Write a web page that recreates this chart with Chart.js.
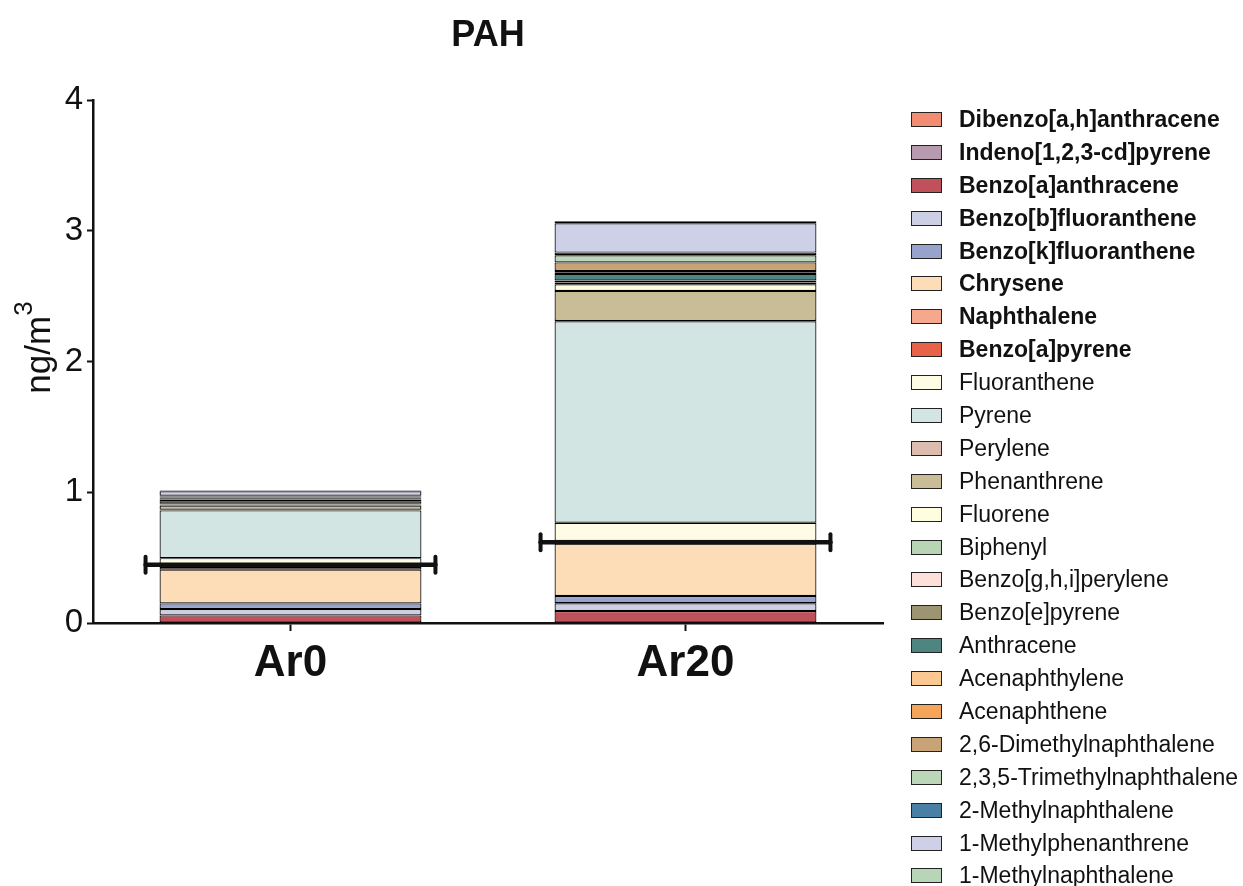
<!DOCTYPE html>
<html>
<head>
<meta charset="utf-8">
<script src="https://cdn.jsdelivr.net/npm/chart.js@4"></script>
<style>
  html, body { margin: 0; padding: 0; background: #fff; }
  #wrap { position: relative; width: 1243px; height: 886px; }
  #legend { position: absolute; left: 911px; top: 103px; font-family: "Liberation Sans", Arial, sans-serif; font-size: 23px; color: #111; }
  .item { height: 32.9px; display: flex; align-items: center; white-space: nowrap; }
  .box { width: 29px; height: 13px; border: 1.5px solid #222; margin-right: 17px; flex: none; }
</style>
</head>
<body>
<div id="wrap">
  <canvas id="chart" width="1243" height="886"></canvas>
  <div id="legend"></div>
</div>
<script>
const categories = ["Ar0", "Ar20"];
const compounds = [
  "Dibenzo[a,h]anthracene", "Indeno[1,2,3-cd]pyrene", "Benzo[a]anthracene", "Benzo[b]fluoranthene",
  "Benzo[k]fluoranthene", "Chrysene", "Naphthalene", "Benzo[a]pyrene", "Fluoranthene", "Pyrene",
  "Perylene", "Phenanthrene", "Fluorene", "Biphenyl", "Benzo[g,h,i]perylene", "Benzo[e]pyrene",
  "Anthracene", "Acenaphthylene", "Acenaphthene", "2,6-Dimethylnaphthalene", "2,3,5-Trimethylnaphthalene",
  "2-Methylnaphthalene", "1-Methylphenanthrene", "1-Methylnaphthalene"
];
const boldCompounds = compounds.slice(0, 8);
const ar0Values = [0, 0, 0.058, 0.049, 0.043, 0.258, 0.02, 0.01, 0.058, 0.365,
  0.005, 0.033, 0.005, 0.005, 0.003, 0.02, 0.008, 0.005, 0.005, 0.01, 0.008, 0.005, 0.035, 0.005];
const ar20Values = [0, 0, 0.092, 0.059, 0.056, 0.40, 0.01, 0.01, 0.14, 1.54,
  0.003, 0.23, 0.05, 0.01, 0.005, 0.015, 0.05, 0.008, 0.015, 0.065, 0.055, 0.02, 0.224, 0.015];
const errorLevels = [0.445, 0.617];
const yTicks = [0, 1, 2, 3, 4];

const colors = [
  "#f28c72", "#b89aae", "#c0505a", "#cdd0e5", "#97a3cc", "#fddcb8", "#f5a88e", "#e8624a",
  "#fefce4", "#d3e5e3", "#ddbcb0", "#c8bd96", "#fefde0", "#b9d3b5", "#fde0da", "#9d9472",
  "#4e8580", "#fcc891", "#f4a55a", "#c8a377", "#bcd6ba", "#4a7fa5", "#cdd0e6", "#b8d5b8"
];

const FONT = "'Liberation Sans', Arial, sans-serif";

const datasets = compounds.map((name, i) => ({
  label: name,
  data: [ar0Values[i], ar20Values[i]],
  backgroundColor: colors[i],
  borderColor: "#000",
  borderWidth: 1.2,
  borderSkipped: false,
  barPercentage: 0.663,
  categoryPercentage: 1
}));

// title, y-axis title with superscript, horizontal error bars
const extras = {
  id: "extras",
  afterDatasetsDraw(chart) {
    const ctx = chart.ctx;
    const y = chart.scales.y;
    const meta = chart.getDatasetMeta(0);
    ctx.save();
    ctx.strokeStyle = "#111";
    ctx.lineCap = "round";
    meta.data.forEach((bar, i) => {
      const py = y.getPixelForValue(errorLevels[i]);
      const half = bar.width / 2 + 14;
      ctx.lineWidth = 4.5;
      ctx.beginPath();
      ctx.moveTo(bar.x - half, py);
      ctx.lineTo(bar.x + half, py);
      ctx.stroke();
      ctx.lineWidth = 4;
      [bar.x - half, bar.x + half].forEach(cx => {
        ctx.beginPath();
        ctx.moveTo(cx, py - 8);
        ctx.lineTo(cx, py + 8);
        ctx.stroke();
      });
    });
    ctx.restore();
  },
  afterDraw(chart) {
    const ctx = chart.ctx;
    const a = chart.chartArea;
    ctx.save();
    ctx.fillStyle = "#111";
    ctx.font = "bold 36px " + FONT;
    ctx.textAlign = "center";
    ctx.textBaseline = "alphabetic";
    ctx.fillText("PAH", (a.left + a.right) / 2, 46);

    // "ng/m" + raised "3", rotated
    ctx.textAlign = "left";
    ctx.font = "35px " + FONT;
    const w1 = ctx.measureText("ng/m").width;
    ctx.font = "26px " + FONT;
    const w2 = ctx.measureText("3").width;
    const mid = (a.top + a.bottom) / 2 - 14;
    ctx.translate(50, mid + (w1 + w2) / 2);
    ctx.rotate(-Math.PI / 2);
    ctx.font = "35px " + FONT;
    ctx.fillText("ng/m", 0, 0);
    ctx.font = "26px " + FONT;
    ctx.fillText("3", w1, -18);
    ctx.restore();
  }
};

const chart = new Chart(document.getElementById("chart"), {
  type: "bar",
  data: { labels: categories, datasets },
  options: {
    responsive: false,
    animation: false,
    layout: { padding: { top: 100, left: 0, right: 360, bottom: 0 } },
    plugins: { legend: { display: false }, tooltip: { enabled: false }, title: { display: false } },
    scales: {
      x: {
        stacked: true,
        offset: true,
        grid: { display: true, drawOnChartArea: false, offset: false, tickLength: 8, tickWidth: 2, tickColor: "#111" },
        border: { display: true, color: "#111", width: 2.5 },
        ticks: { color: "#111", font: { family: FONT, size: 44, weight: "bold" }, padding: 6 },
        afterFit(s) { s.height = 263; }
      },
      y: {
        stacked: true,
        min: 0,
        max: 4,
        afterBuildTicks(s) { s.ticks = yTicks.map(v => ({ value: v })); },
        grid: { display: true, drawOnChartArea: false, tickLength: 6, tickWidth: 2, tickColor: "#111" },
        border: { display: true, color: "#111", width: 2.5 },
        ticks: { color: "#111", font: { family: FONT, size: 33 }, padding: 4 },
        afterFit(s) { s.width = 93; }
      }
    }
  },
  plugins: [extras]
});

// legend in the same order as the stack, bottom segment first
const legend = document.getElementById("legend");
legend.innerHTML = chart.data.datasets.map(ds =>
  `<div class="item" style="font-weight:${boldCompounds.includes(ds.label) ? "bold" : "normal"}">` +
  `<span class="box" style="background:${ds.backgroundColor}"></span>${ds.label}</div>`
).join("");
</script>
</body>
</html>
